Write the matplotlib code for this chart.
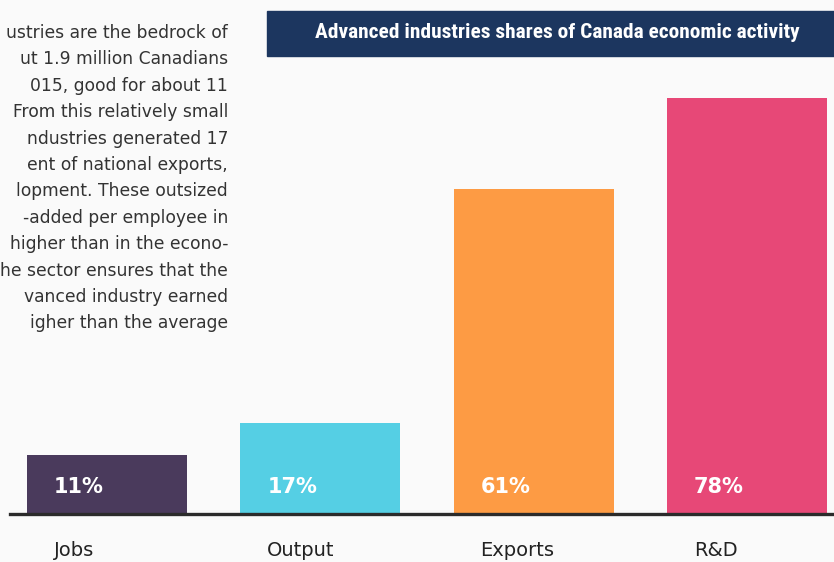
import matplotlib
matplotlib.use("Agg")
import matplotlib.pyplot as plt
from matplotlib.patches import Rectangle
from matplotlib import font_manager

categories = ["Jobs", "Output", "Exports", "R&D"]
shares = [11, 17, 61, 78]
value_labels = ["11%", "17%", "61%", "78%"]
colors = ["#4a3a5c", "#55cfe4", "#fd9b44", "#e74877"]
title = "Advanced industries shares of Canada economic activity"
paragraph = [
    "ustries are the bedrock of",
    "ut 1.9 million Canadians",
    "015, good for about 11",
    "From this relatively small",
    "ndustries generated 17",
    "ent of national exports,",
    "lopment. These outsized",
    "-added per employee in",
    "higher than in the econo-",
    "he sector ensures that the",
    "vanced industry earned",
    "igher than the average",
]

names = {f.name for f in font_manager.fontManager.ttflist}
cond = None
for cand in ["Liberation Sans Narrow", "DejaVu Sans Condensed", "Roboto Condensed",
             "Open Sans Condensed", "Noto Sans Condensed"]:
    if cand in names:
        cond = cand
        break

W, H = 834, 562
bg = "#fafafa"
fig = plt.figure(figsize=(W / 100, H / 100), dpi=100, facecolor=bg)

spacing = 213.3
c0 = 107.0
base_px = 514.0
px_per = 5.33
ax = fig.add_axes([0, (H - base_px) / H, 1, base_px / H])
ax.set_facecolor("none")
ax.set_xlim(-c0 / spacing, (W - c0) / spacing)
ax.set_ylim(0, base_px / px_per)
ax.axis("off")

x = list(range(len(categories)))
ax.bar(x, shares, width=160 / spacing, color=colors, zorder=2)
ax.axhline(0, xmin=10 / W, xmax=1, color="#2b2b2b", lw=2.4, zorder=3, clip_on=False)

off = 27 / spacing
for i, (c, v) in enumerate(zip(categories, value_labels)):
    ax.text(i - 0.375 + off, 27 / px_per, v, ha="left", va="center",
            color="white", fontsize=15, fontweight="bold", family="DejaVu Sans", zorder=4)
    ax.text(i - 0.375 + off, -36 / px_per, c, ha="left", va="center",
            color="#222222", fontsize=14, family="DejaVu Sans", clip_on=False)

# title box
fig.patches.append(Rectangle((267 / W, (H - 56) / H), (W - 267) / W, 45 / H,
                             transform=fig.transFigure, color="#1c365f", zorder=1))
if cond:
    fig.text(557 / W, (H - 33) / H, title, ha="center", va="center", color="white",
             fontsize=15.4, fontweight="bold", family=[cond, "DejaVu Sans"])
else:
    fig.text(557 / W, (H - 33) / H, title, ha="center", va="center", color="white",
             fontsize=11.5, fontweight="bold", family="Roboto")

# paragraph text (cropped at left edge, as in the source layout)
for k, line in enumerate(paragraph):
    y = 33 + k * 26.4
    fig.text(228 / W, (H - y) / H, line, ha="right", va="center", color="#333333",
             fontsize=12.3, family="DejaVu Sans")

fig.savefig("out.png", dpi=100, facecolor=bg)
